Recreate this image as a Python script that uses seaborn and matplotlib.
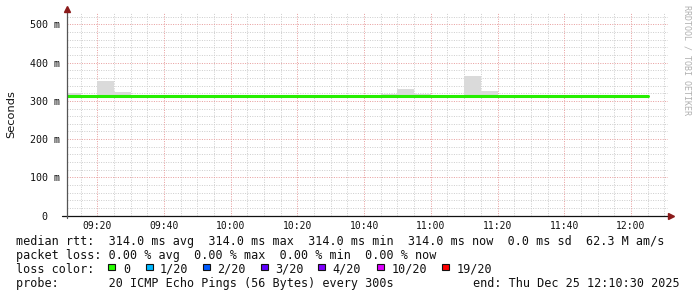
import matplotlib
matplotlib.use("Agg")
import matplotlib.pyplot as plt
import seaborn as sns
import pandas as pd

# ---------------- data ----------------
slot_start = ["09:10", "09:15", "09:20", "09:25", "09:30", "09:35", "09:40",
              "09:45", "09:50", "09:55", "10:00", "10:05", "10:10", "10:15",
              "10:20", "10:25", "10:30", "10:35", "10:40", "10:45", "10:50",
              "10:55", "11:00", "11:05", "11:10", "11:15", "11:20", "11:25",
              "11:30", "11:35", "11:40", "11:45", "11:50", "11:55", "12:00"]
median_ms = [314, 314, 314, 314, 314, 314, 314, 314, 314, 314, 314, 314,
             314, 314, 314, 314, 314, 314, 314, 314, 314, 314, 314, 314,
             314, 314, 314, 314, 314, 314, 314, 314, 314, 314, 314]
smoke_max_ms = [321, 314, 351, 324, 314, 314, 314, 314, 314, 314, 314, 314,
                314, 314, 314, 314, 314, 314, 314, 318, 332, 318, 314, 314,
                364, 327, 314, 314, 314, 314, 314, 314, 314, 314, 314]
x_tick_labels = ["09:20", "09:40", "10:00", "10:20", "10:40", "11:00",
                 "11:20", "11:40", "12:00"]
y_tick_values = [0, 100, 200, 300, 400, 500]
y_tick_labels = ["0  ", "100 m", "200 m", "300 m", "400 m", "500 m"]

loss_labels = ["0", "1/20", "2/20", "3/20", "4/20", "10/20", "19/20"]
loss_colors = ["#26ff00", "#00b8ff", "#0059ff", "#5e00ff", "#7e00ff",
               "#dd00ff", "#ff0000"]

row1 = "median rtt:  314.0 ms avg  314.0 ms max  314.0 ms min  314.0 ms now  0.0 ms sd  62.3 M am/s"
row2 = "packet loss: 0.00 % avg  0.00 % max  0.00 % min  0.00 % now"
row3 = "loss color:"
row4 = "probe:       20 ICMP Echo Pings (56 Bytes) every 300s"
end_text = "end: Thu Dec 25 12:10:30 2025"


def to_min(s):
    h, m = s.split(":")
    return int(h) * 60 + int(m) - 9 * 60


STEP = 5
xs = [to_min(s) for s in slot_start]
df = pd.DataFrame({"t": xs + [xs[-1] + STEP],
                   "median": median_ms + [median_ms[-1]]})

# ---------------- figure ----------------
W, H = 697, 297
sns.set_style("white")
plt.rcParams["font.family"] = ["DejaVu Sans Mono", "DejaVu Sans"]
fig = plt.figure(figsize=(W / 100, H / 100), dpi=100)
fig.patch.set_facecolor("white")

x0, x1 = 66.7, 668.3
y0, y1 = 215.5, 13.0
ax = fig.add_axes([x0 / W, (H - y0) / H, (x1 - x0) / W, (y0 - y1) / H])
ax.set_facecolor("white")
ax.set_xlim(10.83, 191.2)
ax.set_ylim(0, 530)

# grid
minor_c = "#cfcfcf"
major_c = "#e8a0a0"
dot = (0, (1.0, 1.4))
for v in range(20, 530, 20):
    if v % 100:
        ax.axhline(v, color=minor_c, lw=0.72, ls=dot, zorder=0)
for v in range(15, 192, 5):
    if v % 20:
        ax.axvline(v, color=minor_c, lw=0.72, ls=dot, zorder=0)
for v in range(100, 530, 100):
    ax.axhline(v, color=major_c, lw=0.72, ls=dot, zorder=0.5)
for v in range(20, 192, 20):
    ax.axvline(v, color=major_c, lw=0.72, ls=dot, zorder=0.5)

# smoke
ax.bar(xs, [mx - md for mx, md in zip(smoke_max_ms, median_ms)],
       bottom=median_ms, width=STEP, align="edge", color="#dadada",
       linewidth=0, zorder=1)

# median line
sns.lineplot(data=df, x="t", y="median", ax=ax, drawstyle="steps-post",
             color="#26ee00", lw=2.2, estimator=None, sort=False, zorder=3)

# ticks
ax.set_xticks(list(range(20, 181, 20)))
ax.set_xticklabels(x_tick_labels)
ax.set_yticks(y_tick_values)
ax.set_yticklabels(y_tick_labels)
ax.tick_params(axis="x", length=0, pad=4, labelsize=7, colors="#111111")
ax.tick_params(axis="y", length=0, pad=4.6, labelsize=7.2, colors="#111111")
ax.set_xlabel("")
ax.set_ylabel("")
for sp in ax.spines.values():
    sp.set_visible(False)

# axis lines + arrows
ax.plot([-0.008, 1.0], [0, 0], transform=ax.transAxes, color="#111111",
        lw=0.9, clip_on=False, zorder=5)
ax.plot([0, 0], [-0.012, 1.01], transform=ax.transAxes, color="#555555",
        lw=0.9, clip_on=False, zorder=5)
ax.plot([0], [1.02], marker="^", ms=5, color="#8b1a1a", transform=ax.transAxes,
        clip_on=False, zorder=6)
ax.plot([1.004], [0], marker=">", ms=5, color="#8b1a1a", transform=ax.transAxes,
        clip_on=False, zorder=6)

# side texts
fig.text(11 / W, 1 - 114 / H, "Seconds", rotation=90, ha="center", va="center",
         fontsize=8.2, family="DejaVu Sans", color="#111111")
fig.text(687 / W, 1 - 5 / H, "RRDTOOL / TOBI OETIKER", rotation=270,
         ha="center", va="top", fontsize=6.0, color="#b0b0b0")

# legend rows
fs = 8.5
def ftext(x, y, s, **kw):
    fig.text(x / W, 1 - y / H, s, fontsize=fs, va="baseline",
             color="#111111", **kw)

ftext(16, 245, row1)
ftext(16, 258.9, row2)
ftext(16, 272.7, row3)
ftext(16, 286.6, row4)
ftext(680, 286.6, end_text, ha="right")

box_x = [108.3, 146.0, 203.3, 261.0, 318.3, 377.3, 441.7]
lab_x = [123.3, 160.0, 216.7, 275.0, 332.0, 391.7, 456.7]
for bx, lx, lab, col in zip(box_x, lab_x, loss_labels, loss_colors):
    fig.patches.append(plt.Rectangle((bx / W, 1 - 270.3 / H), 6.8 / W, 6.8 / H,
                                     transform=fig.transFigure, figure=fig,
                                     facecolor=col, edgecolor="#111111",
                                     lw=0.8))
    ftext(lx, 272.7, lab)

fig.savefig("out.png", dpi=100, facecolor="white")
